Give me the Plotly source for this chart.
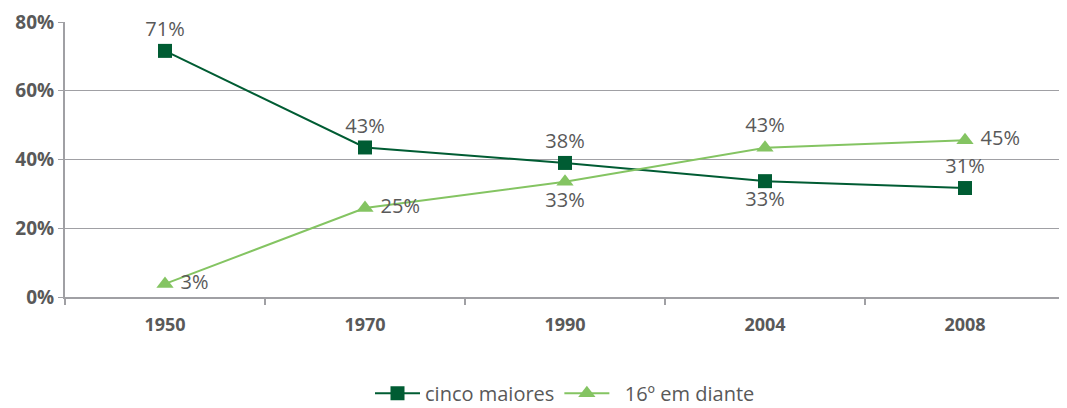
import plotly.graph_objects as go

YEARS = ["1950", "1970", "1990", "2004", "2008"]
CINCO_MAIORES = [71.6, 43.5, 39.0, 33.7, 31.7]
CINCO_LABELS = ["71%", "43%", "38%", "33%", "31%"]
DEZESSEIS = [3.8, 25.9, 33.5, 43.4, 45.6]
DEZESSEIS_LABELS = [" 3%", " 25%", "33%", "43%", " 45%"]
Y_TICKS = [0, 20, 40, 60, 80]
Y_TICK_TEXT = ["0%", "20%", "40%", "60%", "80%"]

DARK_GREEN = "#005c33"
LIGHT_GREEN = "#84c462"
TEXT_GREY = "#595959"
AXIS_GREY = "#a0a0a4"
FONT = "Open Sans"

fig = go.Figure()
fig.add_trace(
    go.Scatter(
        x=YEARS,
        y=CINCO_MAIORES,
        mode="lines+markers+text",
        name="cinco maiores",
        line={"color": DARK_GREEN, "width": 2},
        marker={"symbol": "square", "size": 14, "color": DARK_GREEN},
        text=CINCO_LABELS,
        textposition=["top center", "top center", "top center", "bottom center", "top center"],
        textfont={"family": FONT, "size": 20, "color": TEXT_GREY},
        cliponaxis=False,
    )
)
fig.add_trace(
    go.Scatter(
        x=YEARS,
        y=DEZESSEIS,
        mode="lines+markers+text",
        name="  16º em diante",
        line={"color": LIGHT_GREEN, "width": 2},
        marker={"symbol": "triangle-up", "size": 15, "color": LIGHT_GREEN},
        text=DEZESSEIS_LABELS,
        textposition=["middle right", "middle right", "bottom center", "top center", "middle right"],
        textfont={"family": FONT, "size": 20, "color": TEXT_GREY},
        cliponaxis=False,
    )
)

# page body has an 8px margin, so the figure is a bit smaller than the window
fig.update_layout(
    width=1059,
    height=400,
    margin={"l": 57, "r": 2, "t": 14, "b": 111, "autoexpand": False},
    plot_bgcolor="white",
    paper_bgcolor="white",
    font={"family": FONT, "color": TEXT_GREY},
    showlegend=True,
    legend={
        "orientation": "h",
        "x": 0.5,
        "xanchor": "center",
        "y": -0.35,
        "yanchor": "middle",
        "font": {"size": 20, "color": TEXT_GREY},
        "itemwidth": 45,
    },
)
fig.update_xaxes(
    type="category",
    range=[-0.5, 4.5],
    showgrid=False,
    showline=True,
    linecolor=AXIS_GREY,
    linewidth=2,
    ticks="outside",
    tickson="boundaries",
    ticklen=6,
    tickcolor=AXIS_GREY,
    tickwidth=2,
    ticklabelstandoff=10,
    tickfont={"family": FONT, "size": 18, "color": TEXT_GREY, "weight": "bold"},
)
fig.update_yaxes(
    range=[0, 80],
    tickvals=Y_TICKS,
    ticktext=Y_TICK_TEXT,
    showgrid=True,
    gridcolor=AXIS_GREY,
    gridwidth=1,
    zeroline=False,
    showline=True,
    linecolor=AXIS_GREY,
    linewidth=2,
    ticks="outside",
    ticklen=5,
    tickcolor=AXIS_GREY,
    tickfont={"family": FONT, "size": 19, "color": TEXT_GREY, "weight": "bold"},
)

fig.write_html("out.html")
